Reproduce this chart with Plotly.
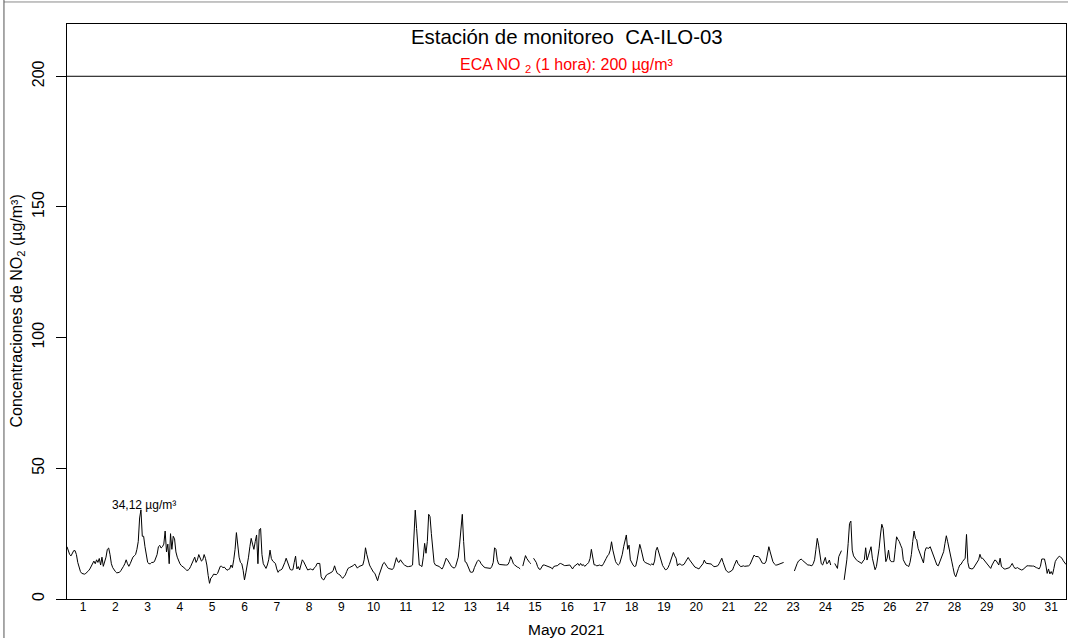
import plotly.graph_objects as go

# hourly NO2 (ug/m3), station CA-ILO-03, May 2021 -- None = no data
# one row per day, 24 values
may_01_07 = [
    20, 18, 17, 16.5, 17.5, 18.5, 18.5, 17, 14, 12, 10.5, 9.8, 9.5, 9.5, 9.8, 10.2, 10.8, 11.5, 12.5, 13.5, 14.5, 13.5, 15, 14,
    15.5, 13, 16, 12.5, 14, 16, 19, 19.5, 17, 13.5, 12, 11, 10.5, 10, 10, 10.2, 10.8, 11.5, 12.5, 13.5, 15, 13.5, 12.5, 13.5,
    15, 16, 16.5, 17, 19, 22, 31, 34.12, 24, 24, 20, 16, 14, 13.5, 13.5, 14, 14, 14.3, 16, 17, 20, 20.5, 19.5, 20,
    21, 26, 18, 21, 13.5, 25, 19, 24, 23, 18, 16, 14.5, 13.5, 12.8, 12.5, 12, 11.5, 11, 11, 11.5, 12.5, 13.5, 15, 16,
    14, 15, 17, 15.5, 14.5, 15, 17, 15.5, 13, 9, 6, 8, 8.5, 9.5, 9.5, 9.3, 9.8, 11, 12.5, 12.5, 12, 12.2, 11.5, 11,
    11.3, 11.5, 13, 12, 15, 19, 25.4, 19, 16, 14, 13.5, 11, 7.3, 10, 12.7, 16, 20, 23.2, 21, 19, 22, 24.5, 13.5, 26.5,
    27, 17, 13.5, 12.5, 11.7, 13, 15, 18.7, 15.5, 14.5, 14, 13.6, 11.5, 10.2, 11, 11.1, 11.5, 12.5, 14, 15.6, 14, 12.5, 11.3, 11.1,
]
may_08_14 = [
    11.2, 14, 16.4, 11.5, 12.4, 11.1, 13, 15, 14.3, 13, 12, 11.1, 11.3, 11.5, 11.3, 11.1, 12, 12.4, 13.6, 13.6, 13.6, 8.5, 7.6, 7.3,
    8.5, 9.2, 9.5, 9.8, 10, 10.3, 11, 12.7, 11, 9.8, 9.5, 9.2, 8.5, 7.9, 8.5, 9.2, 10.5, 11.7, 12, 12.2, 12.4, 12.8, 13.4, 12.4,
    11.8, 12.4, 12.6, 13, 13, 15, 19.6, 17, 14.3, 13, 12, 11, 10.2, 9.8, 8, 7, 9, 10.5, 12.5, 13.5, 14, 13, 12.4, 11.7,
    11.5, 11.2, 11.3, 12, 14, 15.8, 14.3, 14, 15, 14, 13.5, 13, 12.6, 12.4, 12.4, 12.4, 12.6, 13, 25, 34, 27, 20, 13, 12.8,
    12.4, 16, 21.3, 17.5, 22, 32.4, 31.5, 25, 18, 14, 13, 12.8, 12.6, 12.4, 11.8, 11.5, 12.5, 14, 15.6, 15, 14.3, 13.3, 12.4, 12,
    11.8, 12.4, 14, 16, 21, 27, 32.4, 22, 14.3, 14, 12.5, 11.1, 10.3, 10.2, 10.4, 12, 13.3, 14.3, 14.9, 14.5, 13.5, 12.8, 12.3, 12,
    11.9, 11.9, 11.8, 11.7, 12.5, 14, 19.6, 19, 15, 13.4, 13.2, 13.1, 13, 13, 13, 13, 13.2, 14.3, 16.2, 15, 13.5, 13, 12.4, 12.2,
]
may_15_21 = [
    12, 11.5, None, 12.6, 15, 16.6, 15.5, 14.5, 14, 13.5, None, 15.6, 15, 14, 12.4, 11.5, 11.3, 12, 13, 13, 12.8, 12.6, 12.5, 12.4,
    12, 11.5, 12.4, 12.6, 12.8, 12.8, 13.4, 13.6, 13.4, 13, 12.8, 12.8, 12.8, 12.9, 13, 12.2, 11.5, 12.4, 12.8, 13.4, 13.6, 12.8, 13.6, 12.8,
    13.2, 12.5, 12.8, 13.4, 14, 15.5, 19, 15.3, 13.1, 13, 12.7, 12.8, 13, 12.8, 12.7, 13.5, 14.3, 15.5, 16.5, 17.1, 18.7, 21.9, 18.7, 16,
    14.3, 13.5, 13, 13.5, 15, 17.1, 20, 22.5, 24.5, 19, 20.6, 15, 13.8, 13, 12.4, 12.6, 14.9, 18, 20.9, 19, 17, 14.5, 14, 13.6,
    13.5, 13.3, 13, 13.5, 13, 14.5, 18.5, 19.8, 18, 15.5, 13.8, 12.8, 12, 11.2, 11.3, 12, 13.2, 14.5, 15.8, 17.8, 16.5, 15.6, 12.7, 13.4,
    13.4, 13, 13, 13.3, 14.2, 15, 15.9, 15, 14.3, 13.3, 12.7, 12.2, 12, 11.6, 11.5, 12.2, 12.8, 13.5, 14.9, 13.8, 13.6, 13.6, 13.6, 13.4,
    13, 12.4, 12.4, 12.6, 12.7, 13.5, 14.8, 15.6, 14, 12.5, 11.1, 10.5, 10.2, 10.4, 10.8, 11.1, 12.5, 14, 14.9, 13.6, 12.8, 12.4, 12.5, 12.7,
]
may_22_28 = [
    12.5, 12.5, 12.6, 12.7, 13.2, 14.3, 15.6, 16.8, 16.3, 16.2, 16.2, 15.8, 15, 13.8, 13.6, 13.6, 14.5, 16.8, 20, 18, 16, 14.3, 13.5, 13,
    13, 13.2, 13.3, 13.6, 13.8, 14, None, None, None, None, None, None, None, 10.7, 12.5, 13.5, 14.5, 15, 15.3, 14.8, 14.3, 13.8, 13.4, 13,
    13, 12.8, 12.7, 13.5, 15, 19, 23.2, 20.6, 17, 13.5, 13, 14.3, 15.9, 13.5, 13.8, 14.9, 13, None, None, 13.6, 12.5, 11.7, 16.2, 17.5,
    18.5, None, 7.3, 11, 15, 21.3, 28.9, 29.8, 18.7, 16.5, 15.5, 15, 14.6, 14.3, 14, 13.6, 14.5, 15, 19.6, 14.9, 16.5, 18, 20, 15.6,
    13, 11.2, 12.4, 15.5, 19.4, 24.5, 28.6, 27, 21, 14.3, 15.6, 18.7, 15, 14.3, 14.3, 14.3, 19, 23.8, 22.8, 22, 20.6, 19.4, 15, 13.6,
    13, 12.8, 12.4, 14, 17, 22, 26, 23.2, 22.6, 19.4, 18, 16.8, 14.6, 13.8, 18.1, 19.6, 19.5, 19.4, 20, 18.7, 17, 15.5, 14.2, 13,
    12.7, 14, 15.5, 17, 18.1, 21.3, 24.2, 21.9, 19, 17.5, 14.5, 12, 9.5, 8.5, 10.5, 11.7, 13, 13.3, 14.3, 14.9, 15.6, 24.7, 14, 11.8,
]
may_29_31 = [
    11.6, 11.5, 11.7, 12.5, 13.3, 14.3, 15, 17.1, 15.6, 15.6, 15, 14.3, 13.6, 13, 12.3, 11.7, 13, 14, 14.9, 14.7, 13.5, 13, 15.6, 12.4,
    12, 11.5, 11.5, 11.6, 11.7, 12, 12.8, 13.6, 12.5, 11.7, 11.8, 12, 11.6, 11.3, 11.1, 11.3, 11.7, 12.2, 12.7, 12.7, 12.6, 12.6, 12.6, 12.6,
    12.2, 12, 11.8, 11.5, 12.5, 15.3, 15.3, 15.3, 13, 9.8, 11.5, 9.6, 10.5, 9.4, 11.7, 14.3, 15.2, 15.8, 16.4, 16, 15.6, 14.6, 13.6, 13.2,
]

dias = [str(d) for d in range(1, 32)]
eca_limite = 200
y_ticks = [0, 50, 100, 150, 200]

no2 = may_01_07 + may_08_14 + may_15_21 + may_22_28 + may_29_31
horas = list(range(len(no2)))

# peak value for the label
vals = [v for v in no2 if v is not None]
pico = max(vals)
hora_pico = horas[no2.index(pico)]

FONT = "Liberation Sans, Arial, Helvetica, sans-serif"

fig = go.Figure()
fig.add_trace(go.Scatter(
    x=horas, y=no2, mode="lines",
    line=dict(color="black", width=1),
    connectgaps=False, showlegend=False, hoverinfo="x+y",
))

# ECA line
fig.add_shape(type="line", xref="paper", yref="y", x0=0, x1=1,
              y0=eca_limite, y1=eca_limite, line=dict(color="black", width=1))

# thin frame of the original image (top + left)
fig.add_shape(type="line", xref="paper", yref="paper", x0=-0.0631, x1=1.003,
              y0=1.0383, y1=1.0383, line=dict(color="#8a8a8a", width=1))
fig.add_shape(type="line", xref="paper", yref="paper", x0=-0.0631, x1=-0.0631,
              y0=-0.07, y1=1.042, line=dict(color="#555555", width=1))

fig.add_annotation(text="Estación de monitoreo  CA-ILO-03", xref="paper", yref="paper",
                   x=0.5, y=0.977, yanchor="middle", showarrow=False,
                   font=dict(size=20.4, color="black"))
fig.add_annotation(text="ECA NO <sub>2</sub> (1 hora): 200 µg/m³", xref="paper", yref="paper",
                   x=0.5, y=0.927, yanchor="middle", showarrow=False,
                   font=dict(size=16, color="#ff0000"))
fig.add_annotation(text=f"{pico:.2f}".replace(".", ",") + " µg/m³", x=hora_pico, y=pico,
                   xshift=3, yshift=-4, yanchor="bottom", showarrow=False,
                   font=dict(size=12, color="black"))

# axis titles
fig.add_annotation(text="Mayo 2021", xref="paper", yref="paper", x=0.5, y=-0.0539,
                   yanchor="middle", showarrow=False, font=dict(size=15.5, color="black"))
fig.add_annotation(text="Concentraciones de NO<sub>2</sub> (µg/m³)", xref="paper", yref="paper",
                   x=-0.05, y=0.5, textangle=-90, xanchor="center", yanchor="middle",
                   showarrow=False, font=dict(size=16, color="black"))

fig.update_layout(
    width=1068, height=638,
    margin=dict(l=67, r=2, t=24, b=39),
    paper_bgcolor="white", plot_bgcolor="white",
    font=dict(family=FONT, color="black"),
    showlegend=False,
)
fig.update_xaxes(
    range=[0, len(no2) - 1],
    tickmode="array", tickvals=[i * 24 + 12 for i in range(len(dias))], ticktext=dias,
    ticks="", showgrid=False, zeroline=False,
    showline=True, mirror=True, linecolor="black", linewidth=1,
    tickfont=dict(size=12), ticklabelstandoff=-3,
)
fig.update_yaxes(
    range=[0, 220],
    tickmode="array", tickvals=y_ticks,
    ticks="outside", ticklen=10, tickcolor="black", tickwidth=1,
    tickangle=-90, tickfont=dict(size=16), ticklabelstandoff=6,
    showgrid=False, zeroline=False,
    showline=True, mirror=True, linecolor="black", linewidth=1,
)

# page body margin off so the figure sits at the window corner
fig.write_html("out.html", config={"displayModeBar": False},
               post_script="document.body.style.margin='0';")
